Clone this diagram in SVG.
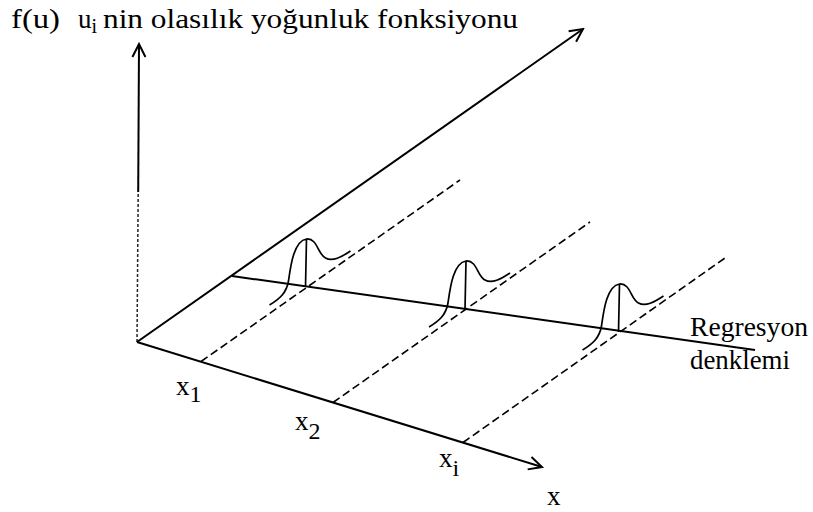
<svg xmlns="http://www.w3.org/2000/svg" width="813" height="512" viewBox="0 0 813 512">
<style>
.ax{stroke:#000;stroke-width:2;fill:none}
.dash{stroke:#000;stroke-width:1.6;stroke-dasharray:8,4;fill:none}
.cur{stroke:#000;stroke-width:1.7;fill:none}
text{font-family:'Liberation Serif','DejaVu Serif',serif;font-size:27px;fill:#000}
.s{font-size:20px}
</style>
<defs>
<marker id="arr" markerUnits="userSpaceOnUse" markerWidth="16" markerHeight="16" refX="14" refY="8" orient="auto">
<path d="M1,1.5 L14,8 L1,14.5" fill="none" stroke="#000" stroke-width="2"/>
</marker>
<path id="dens" d="M-36,18 C-26,12 -19,6 -17,-6 C-15,-20 -12,-46 1,-48 C12,-49 12,-33 20,-29 C27,-25 36,-30 45,-36 M0,0 L1,-48"/>
</defs>
<g id="connectors">
<line class="ax" x1="138.2" y1="192" x2="139" y2="44" marker-end="url(#arr)"/>
<line x1="137" y1="342" x2="138.2" y2="192" stroke="#222" stroke-width="1.5" stroke-dasharray="3,2"/>
<line class="ax" x1="137" y1="342" x2="583" y2="29" marker-end="url(#arr)"/>
<line class="ax" x1="137" y1="342" x2="542" y2="467" marker-end="url(#arr)"/>
<line class="ax" x1="232" y1="276" x2="755" y2="350"/>
<line class="dash" x1="201" y1="361.5" x2="460" y2="180"/>
<line class="dash" x1="333" y1="402.5" x2="590" y2="222"/>
<line class="dash" x1="463" y1="442.5" x2="725" y2="258"/>
</g>
<g id="curve1"><use href="#dens" class="cur" transform="translate(305.5,287)"/></g>
<g id="curve2"><use href="#dens" class="cur" transform="translate(465,309)"/></g>
<g id="curve3"><use href="#dens" class="cur" transform="translate(618.5,332)"/></g>
<g id="title" font-family="Liberation Serif, serif">
<text x="11" y="28" textLength="49" lengthAdjust="spacingAndGlyphs">f(u)</text>
<text x="78" y="28">u<tspan class="s" dy="5">i</tspan></text>
<text x="103" y="28" textLength="415" lengthAdjust="spacingAndGlyphs">nin olasılık yoğunluk fonksiyonu</text>
</g>
<g id="label-x1"><text x="176" y="395">x<tspan dy="7" font-size="24">1</tspan></text></g>
<g id="label-x2"><text x="295" y="430">x<tspan dy="9" font-size="24">2</tspan></text></g>
<g id="label-xi"><text x="439" y="467">x<tspan dy="9" font-size="24">i</tspan></text></g>
<g id="label-x"><text x="547" y="505">x</text></g>
<g id="label-reg">
<text x="690" y="336" textLength="118" lengthAdjust="spacingAndGlyphs">Regresyon</text>
<text x="690" y="369" textLength="100" lengthAdjust="spacingAndGlyphs">denklemi</text>
</g>
</svg>
